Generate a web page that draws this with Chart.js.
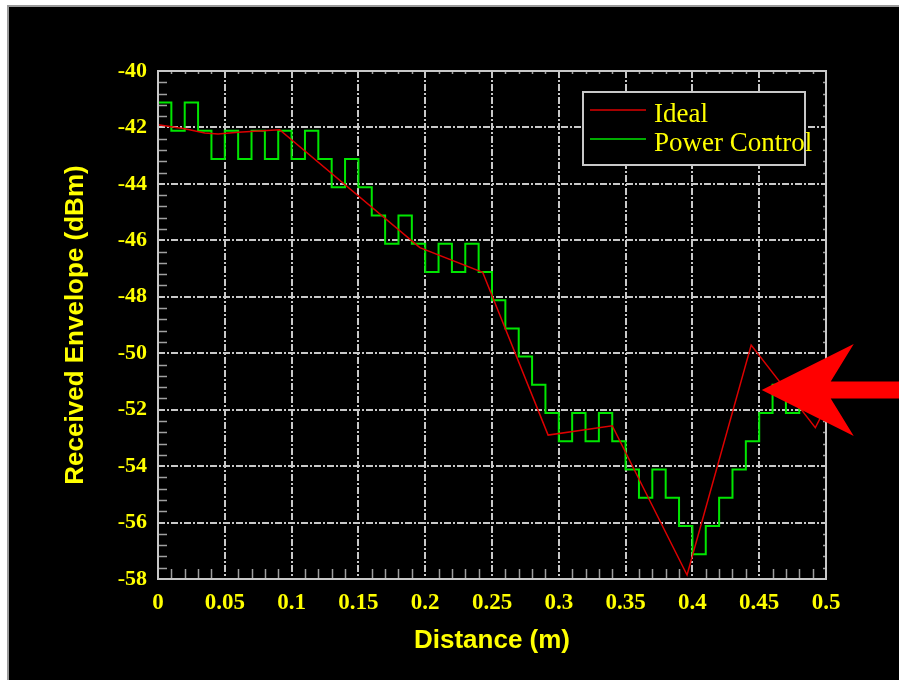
<!DOCTYPE html>
<html>
<head>
<meta charset="utf-8">
<title>Received Envelope vs Distance</title>
<script src="https://cdn.jsdelivr.net/npm/chart.js@4.4.1/dist/chart.umd.min.js"></script>
<style>
  html, body { margin: 0; padding: 0; background: #fff; overflow: hidden; }
  #panel {
    position: absolute; left: 7px; top: 5px;
    width: 890px; height: 675px;
    background: #000;
    border-left: 2px solid #9a9a9a; border-top: 2px solid #9a9a9a;
  }
  #panel canvas { display: block; }
</style>
</head>
<body>
<div id="panel"><canvas id="envelopeChart" width="890" height="673"></canvas></div>
<script>
// data
const distance = [
  0, 0.01, 0.02, 0.03, 0.04, 0.05, 0.06, 0.07, 0.08, 0.09,
  0.1, 0.11, 0.12, 0.13, 0.14, 0.15, 0.16, 0.17, 0.18, 0.19,
  0.2, 0.21, 0.22, 0.23, 0.24, 0.25, 0.26, 0.27, 0.28, 0.29,
  0.3, 0.31, 0.32, 0.33, 0.34, 0.35, 0.36, 0.37, 0.38, 0.39,
  0.4, 0.41, 0.42, 0.43, 0.44, 0.45, 0.46, 0.47, 0.48, 0.49, 0.5
];
// power control level held from each distance until the next one
const powerControl = [
  -41.12, -42.12, -41.12, -42.12, -43.12, -42.12, -43.12, -42.12, -43.12, -42.12,
  -43.12, -42.12, -43.12, -44.12, -43.12, -44.12, -45.12, -46.12, -45.12, -46.12,
  -47.12, -46.12, -47.12, -46.12, -47.12, -48.12, -49.12, -50.12, -51.12, -52.12,
  -53.12, -52.12, -53.12, -52.12, -53.12, -54.12, -55.12, -54.12, -55.12, -56.12,
  -57.12, -56.12, -55.12, -54.12, -53.12, -52.12, -51.12, -52.12, -51.12, -52.12, -52.12
];
const idealDistance = [0, 0.02, 0.035, 0.045, 0.06, 0.091, 0.196, 0.243, 0.292, 0.34, 0.396, 0.444, 0.492, 0.5];
const idealLevel = [-41.9, -42.05, -42.2, -42.23, -42.17, -42.08, -46.26, -47.13, -52.9, -52.57, -57.86, -49.71, -52.64, -51.9];

const xTicks = [0, 0.05, 0.1, 0.15, 0.2, 0.25, 0.3, 0.35, 0.4, 0.45, 0.5];
const yTicks = [-40, -42, -44, -46, -48, -50, -52, -54, -56, -58];

const yellow = "#ffff00";
const gridGrey = "#c8c8c8";

// minor ticks + solid frame round the plot
const frameTicks = {
  id: "frameTicks",
  afterDatasetsDraw(chart) {
    const { ctx, chartArea: a, scales } = chart;
    const x = scales.x, y = scales.y;
    ctx.save();
    ctx.strokeStyle = "#a0a0a0";
    ctx.lineWidth = 1.5;
    ctx.beginPath();
    for (let i = 1; i < 50; i++) {
      if (i % 5 === 0) continue;
      const px = Math.round(x.getPixelForValue(i / 100)) + 0.5;
      ctx.moveTo(px, a.bottom); ctx.lineTo(px, a.bottom - 10);
      ctx.moveTo(px, a.top); ctx.lineTo(px, a.top + 3);
    }
    for (let i = 1; i < 45; i++) {
      if (i % 5 === 0) continue;
      const py = Math.round(y.getPixelForValue(-40 - i * 0.4)) + 0.5;
      ctx.moveTo(a.left, py); ctx.lineTo(a.left + 9, py);
      ctx.moveTo(a.right, py); ctx.lineTo(a.right - 3, py);
    }
    ctx.stroke();
    ctx.strokeStyle = gridGrey;
    ctx.lineWidth = 2;
    ctx.strokeRect(a.left, a.top, a.right - a.left, a.bottom - a.top);
    ctx.restore();
  },
};

// boxed legend in the upper right of the plot
const boxLegend = {
  id: "boxLegend",
  afterDraw(chart) {
    const { ctx, chartArea: a } = chart;
    const bx = a.right - 243, by = a.top + 21, bw = 222, bh = 73;
    ctx.save();
    ctx.fillStyle = "#000";
    ctx.fillRect(bx, by, bw, bh);
    ctx.strokeStyle = gridGrey;
    ctx.lineWidth = 2;
    ctx.strokeRect(bx, by, bw, bh);
    ctx.font = "27px 'Liberation Serif', 'Times New Roman', serif";
    ctx.textBaseline = "alphabetic";
    chart.data.datasets.forEach((ds, i) => {
      const ly = by + 18 + i * 29;
      ctx.strokeStyle = ds.borderColor;
      ctx.lineWidth = 1.5;
      ctx.beginPath();
      ctx.moveTo(bx + 7, ly); ctx.lineTo(bx + 63, ly);
      ctx.stroke();
      ctx.fillStyle = yellow;
      ctx.fillText(ds.label, bx + 71, ly + 12);
    });
    ctx.restore();
  },
};

// big red arrow pointing at the ideal peak
const redArrow = {
  id: "redArrow",
  afterDraw(chart) {
    const { ctx, scales } = chart;
    const tx = scales.x.getPixelForValue(0.4519);
    const ty = scales.y.getPixelForValue(-51.3);
    ctx.save();
    ctx.fillStyle = "#ff0000";
    ctx.beginPath();
    ctx.moveTo(tx, ty);
    ctx.lineTo(tx + 92, ty - 46);
    ctx.lineTo(tx + 69, ty - 8.5);
    ctx.lineTo(chart.width, ty - 8.5);
    ctx.lineTo(chart.width, ty + 8.5);
    ctx.lineTo(tx + 69, ty + 8.5);
    ctx.lineTo(tx + 92, ty + 46);
    ctx.closePath();
    ctx.fill();
    ctx.restore();
  },
};

const ctx = document.getElementById("envelopeChart").getContext("2d");

const envelopeChart = new Chart(ctx, {
  type: "line",
  data: {
    datasets: [
      {
        label: "Ideal",
        data: idealDistance.map((d, i) => ({ x: d, y: idealLevel[i] })),
        borderColor: "#dd0000",
        borderWidth: 1.5,
        pointRadius: 0,
        tension: 0,
      },
      {
        label: "Power Control",
        data: distance.map((d, i) => ({ x: d, y: powerControl[i] })),
        borderColor: "#00e600",
        borderWidth: 2,
        pointRadius: 0,
        stepped: "before",
      },
    ],
  },
  options: {
    responsive: false,
    animation: false,
    layout: { padding: { left: 0, top: 64, right: 73, bottom: 0 } },
    plugins: {
      legend: { display: false },
      tooltip: { enabled: false },
    },
    scales: {
      x: {
        type: "linear",
        min: 0,
        max: 0.5,
        afterBuildTicks: (scale) => { scale.ticks = xTicks.map((v) => ({ value: v })); },
        afterFit: (scale) => { scale.height = 101; },
        grid: { color: gridGrey, lineWidth: 2, drawTicks: false },
        border: { display: false, dash: [7, 2, 2, 2] },
        ticks: {
          color: yellow,
          padding: 10,
          maxRotation: 0,
          autoSkip: false,
          font: { family: "'Liberation Serif', 'Times New Roman', serif", size: 23, weight: "bold" },
          callback: (v) => String(v),
        },
        title: {
          display: true,
          text: "Distance (m)",
          color: yellow,
          padding: { top: 0, bottom: 24 },
          font: { family: "'Liberation Sans', Arial, sans-serif", size: 26, weight: "bold" },
        },
      },
      y: {
        min: -58,
        max: -40,
        afterBuildTicks: (scale) => { scale.ticks = yTicks.map((v) => ({ value: v })); },
        afterFit: (scale) => { scale.width = 149; },
        grid: { color: gridGrey, lineWidth: 2, drawTicks: false },
        border: { display: false, dash: [7, 2, 2, 2] },
        ticks: {
          color: yellow,
          padding: 11,
          autoSkip: false,
          font: { family: "'Liberation Serif', 'Times New Roman', serif", size: 22, weight: "bold" },
          callback: (v) => String(v),
        },
        title: {
          display: true,
          text: "Received Envelope (dBm)",
          color: yellow,
          padding: { top: 51, bottom: 0 },
          font: { family: "'Liberation Sans', Arial, sans-serif", size: 26, weight: "bold" },
        },
      },
    },
  },
  plugins: [frameTicks, boxLegend, redArrow],
});
</script>
</body>
</html>
